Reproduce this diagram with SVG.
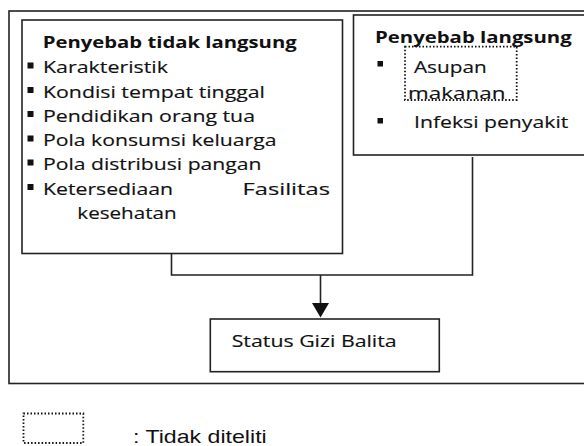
<svg xmlns="http://www.w3.org/2000/svg" width="584" height="446" viewBox="0 0 584 446">
<style>
.box{fill:#fff;stroke:#222;stroke-width:1.6}
.frame{fill:none;stroke:#222;stroke-width:1.6}
.dot{fill:none;stroke:#111;stroke-width:1.8;stroke-dasharray:1.5 2}
.t{font-family:"Open Sans","Noto Sans",sans-serif;font-size:16.5px;fill:#111;stroke:#111;stroke-width:0.15}
.h{font-family:"Open Sans","Noto Sans",sans-serif;font-size:16.5px;font-weight:bold;fill:#111}
.lg{font-family:"Liberation Sans",Arial,sans-serif;font-size:19px;fill:#111}
.b{fill:#111}
.con{fill:none;stroke:#222;stroke-width:1.6}
</style>
<rect id="frame" class="frame" x="9" y="11" width="600" height="372.5"/>
<g id="connectors">
<polyline class="con" points="171.5,253.5 171.5,275 472.5,275 472.5,157"/>
<line class="con" x1="320.5" y1="275" x2="320.5" y2="304"/>
<polygon points="312,303 329,303 320.5,317.5" fill="#111"/>
</g>
<g id="node-tidak-langsung">
<rect class="box" x="22" y="20" width="320.5" height="233.5"/>
<text class="h" x="42.7" y="48" textLength="254" lengthAdjust="spacingAndGlyphs">Penyebab tidak langsung</text>
<rect class="b" x="27.5" y="62.5" width="6" height="6"/>
<text class="t" x="43" y="73" textLength="125" lengthAdjust="spacingAndGlyphs">Karakteristik</text>
<rect class="b" x="27.5" y="87" width="6" height="6"/>
<text class="t" x="43" y="97.5" textLength="222" lengthAdjust="spacingAndGlyphs">Kondisi tempat tinggal</text>
<rect class="b" x="27.5" y="111" width="6" height="6"/>
<text class="t" x="43" y="121.5" textLength="212" lengthAdjust="spacingAndGlyphs">Pendidikan orang tua</text>
<rect class="b" x="27.5" y="135.5" width="6" height="6"/>
<text class="t" x="43" y="146" textLength="233.5" lengthAdjust="spacingAndGlyphs">Pola konsumsi keluarga</text>
<rect class="b" x="27.5" y="159.5" width="6" height="6"/>
<text class="t" x="43" y="170" textLength="218.5" lengthAdjust="spacingAndGlyphs">Pola distribusi pangan</text>
<rect class="b" x="27.5" y="184" width="6" height="6"/>
<text class="t" x="43" y="194.5" textLength="130" lengthAdjust="spacingAndGlyphs">Ketersediaan</text>
<text class="t" x="242.5" y="194.5" textLength="87.5" lengthAdjust="spacingAndGlyphs">Fasilitas</text>
<text class="t" x="77.3" y="218.5" textLength="99.4" lengthAdjust="spacingAndGlyphs">kesehatan</text>
</g>
<g id="node-langsung">
<rect class="box" x="353.5" y="15" width="250" height="140"/>
<text class="h" x="375" y="43.3" textLength="196.7" lengthAdjust="spacingAndGlyphs">Penyebab langsung</text>
<rect class="b" x="377.5" y="61" width="5.5" height="5.5"/>
<text class="t" x="414" y="73.3" textLength="72.7" lengthAdjust="spacingAndGlyphs">Asupan</text>
<text class="t" x="408" y="99" textLength="97.5" lengthAdjust="spacingAndGlyphs">makanan</text>
<rect class="dot" x="405" y="46.7" width="111.7" height="53.3"/>
<rect class="b" x="377.5" y="118" width="5.5" height="5.5"/>
<text class="t" x="414" y="128.3" textLength="154.3" lengthAdjust="spacingAndGlyphs">Infeksi penyakit</text>
</g>
<g id="node-status">
<rect class="box" x="210.3" y="319" width="229" height="52.7"/>
<text class="t" x="231.7" y="346.7" font-size="17" textLength="165" lengthAdjust="spacingAndGlyphs">Status Gizi Balita</text>
</g>
<g id="legend">
<rect class="dot" x="23.5" y="413.5" width="59.8" height="29.5"/>
<text class="lg" x="133" y="442.7" textLength="133.7" lengthAdjust="spacingAndGlyphs">: Tidak diteliti</text>
</g>
</svg>
